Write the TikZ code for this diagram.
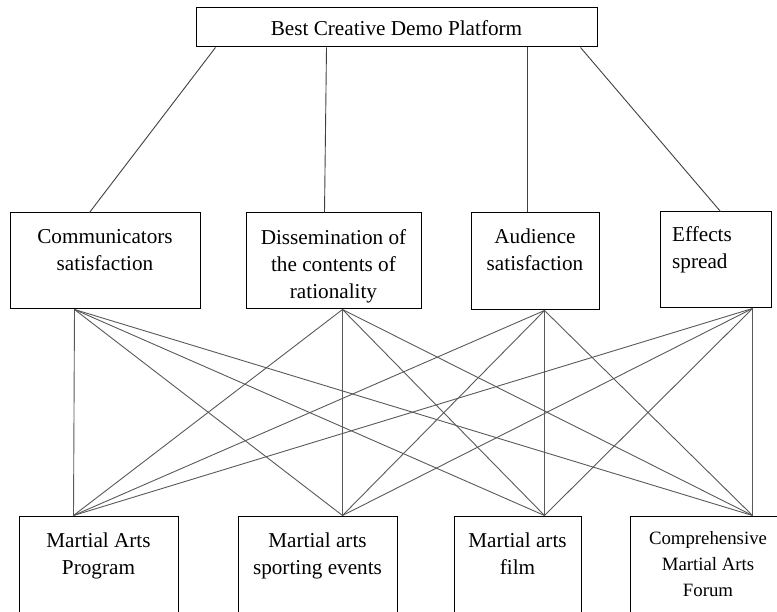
\documentclass[tikz,border=0pt]{standalone}
\usepackage{fontspec}
\setmainfont{Liberation Serif}
\usetikzlibrary{calc}
\begin{document}
\begin{tikzpicture}[x=1pt,y=-1pt,
  box/.style={draw=black,line width=1pt,rectangle,inner sep=0pt},
  txt/.style={inner sep=0pt,anchor=north,align=center,font=\fontsize{21.2}{27}\selectfont},
  txts/.style={inner sep=0pt,anchor=north,align=center,font=\fontsize{18.8}{26}\selectfont},
  link/.style={draw=black!75,line width=0.9pt},
  mlink/.style={draw=black!65,line width=0.9pt}]
\useasboundingbox (0,0) rectangle (777,612);
\begin{scope}
\clip (0,0) rectangle (777,612);
% top
\node[box,minimum width=401pt,minimum height=39pt] (top) at (396.5,27.5) {};
\node[txt] (topt) at (396.5,20.5) {Best Creative Demo Platform};
% middle
\node[box,minimum width=190pt,minimum height=96pt] (m1) at (105,261) {};
\node[txt] (m1t) at (105,229.2) {Communicators\\satisfaction};
\node[box,minimum width=175pt,minimum height=96pt] (m2) at (333.5,261) {};
\node[txt] (m2t) at (333.5,229) {Dissemination of\\the contents of\\rationality};
\node[box,minimum width=128pt,minimum height=97pt] (m3) at (535,261.5) {};
\node[txt] (m3t) at (535,229) {Audience\\satisfaction};
\node[box,minimum width=111pt,minimum height=96pt] (m4) at (715.5,260) {};
\node[txt,align=left,anchor=north west] (m4t) at (672,226) {Effects\\spread};
% bottom
\node[box,minimum width=159pt,minimum height=110pt] (b1) at (98.5,571) {};
\node[txt] (b1t) at (98.5,532.5) {Martial Arts\\Program};
\node[box,minimum width=159pt,minimum height=110pt] (b2) at (317.5,571) {};
\node[txt] (b2t) at (317.5,532.5) {Martial arts\\sporting events};
\node[box,minimum width=127pt,minimum height=110pt] (b3) at (517.5,571) {};
\node[txt] (b3t) at (517.5,532.5) {Martial arts\\film};
\node[box,minimum width=156pt,minimum height=110pt] (b4) at (708,571) {};
\node[txts] (b4t) at (708,531.5) {Comprehensive\\Martial Arts\\Forum};
\end{scope}
% connector ends
\coordinate (t1) at ($(top.south west)+(20,0)$);
\coordinate (t2) at ($(top.south west)+(131,0)$);
\coordinate (t3) at ($(top.south west)+(332,0)$);
\coordinate (t4) at ($(top.south west)+(385,0)$);
\coordinate (m1n) at ($(m1.north west)+(80,0)$);
\coordinate (m2n) at ($(m2.north west)+(79,0)$);
\coordinate (m3n) at ($(m3.north west)+(57,0)$);
\coordinate (m4n) at ($(m4.north west)+(61,0)$);
\coordinate (m1s) at ($(m1.south west)+(65,0)$);
\coordinate (m2s) at ($(m2.south west)+(97,0)$);
\coordinate (m3s) at ($(m3.south west)+(74,0)$);
\coordinate (m4s) at ($(m4.south west)+(93,0)$);
\coordinate (b1n) at ($(b1.north west)+(55,0)$);
\coordinate (b2n) at ($(b2.north west)+(105,0)$);
\coordinate (b3n) at ($(b3.north west)+(91,0)$);
\coordinate (b4n) at ($(b4.north west)+(123,0)$);
% top links
\draw[link] (t1) -- (m1n);
\draw[link] (t2) -- (m2n);
\draw[link] (t3) -- (m3n);
\draw[link] (t4) -- (m4n);
% mid-bottom links
\foreach \m in {m1s,m2s,m3s,m4s}{
  \foreach \b in {b1n,b2n,b3n,b4n}{
    \draw[mlink] (\m) -- (\b);
  }
}
\end{tikzpicture}
\end{document}
